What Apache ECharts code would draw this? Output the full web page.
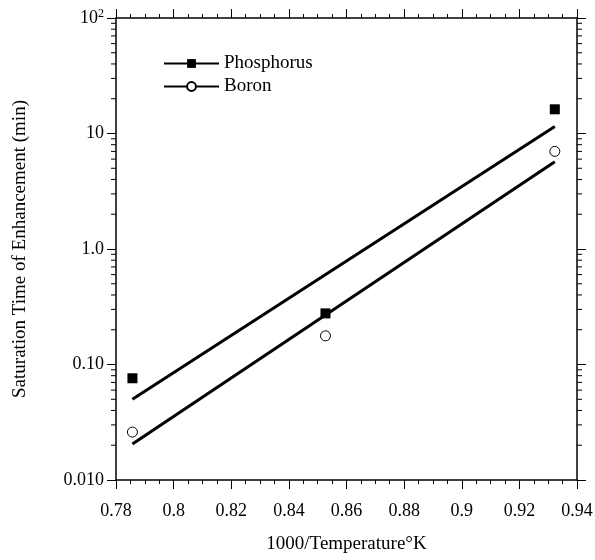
<!DOCTYPE html>
<html>
<head>
<meta charset="utf-8">
<script src="https://cdn.jsdelivr.net/npm/echarts@6/dist/echarts.min.js"></script>
<style>
  html, body { margin: 0; padding: 0; background: #fff; }
  #chart { width: 595px; height: 560px; }
</style>
</head>
<body>
<div id="chart"></div>
<script>
// values
var xValues = [0.7857, 0.8527, 0.9323];
var phosphorus = [0.076, 0.277, 16.2];
var boron = [0.026, 0.177, 7.0];

// fitted lines (end points)
var fitX = [0.7857, 0.9323];
var phosphorusFit = [0.050, 11.5];
var boronFit = [0.0205, 5.7];

// axes
var X_MIN = 0.78, X_MAX = 0.94;
var yTickLabels = ['0.010', '0.10', '1.0', '10', '10{sup|2}'];
var yDecades = [0.01, 0.1, 1, 10];
var yMinorSteps = [2, 3, 4, 5, 6, 7, 8, 9];

var FONT = 'Liberation Serif';

function pairs (xs, ys) {
    return xs.map(function (x, i) { return [x, ys[i]]; });
}

var minorTickData = [];
yDecades.forEach(function (d) {
    yMinorSteps.forEach(function (m) {
        minorTickData.push([X_MIN, m * d]);
    });
});

var myChart = echarts.init(document.getElementById('chart'));

var axisLine = { show: true, onZero: false, lineStyle: { color: '#000', width: 1.5 } };
var axisTick = { show: true, inside: false, length: 9, lineStyle: { color: '#000', width: 1 } };

var option = {
    animation: false,
    backgroundColor: '#fff',
    grid: {
        left: 116,
        right: 18,
        top: 18,
        bottom: 80,
        outerBoundsMode: 'none'
    },
    legend: {
        data: ['Phosphorus', 'Boron'],
        orient: 'vertical',
        left: 158,
        top: 49,
        itemWidth: 55,
        itemHeight: 11,
        itemGap: 4,
        lineStyle: { width: 2 },
        textStyle: { fontFamily: FONT, fontSize: 19, color: '#000' }
    },
    xAxis: [{
        type: 'value',
        min: X_MIN,
        max: X_MAX,
        interval: 0.02,
        name: '1000/Temperature°K',
        nameLocation: 'middle',
        nameGap: 55,
        nameTextStyle: { fontFamily: FONT, fontSize: 19, color: '#000' },
        axisLine: axisLine,
        axisTick: axisTick,
        minorTick: { show: true, splitNumber: 4, length: 4, lineStyle: { color: '#000', width: 1 } },
        axisLabel: { fontFamily: FONT, fontSize: 18, color: '#000', margin: 22 },
        splitLine: { show: false }
    }, {
        type: 'value',
        position: 'top',
        min: X_MIN,
        max: X_MAX,
        interval: 0.02,
        axisLine: axisLine,
        axisTick: axisTick,
        minorTick: { show: true, splitNumber: 4, length: 4, lineStyle: { color: '#000', width: 1 } },
        axisLabel: { show: false },
        splitLine: { show: false }
    }],
    yAxis: [{
        type: 'log',
        logBase: 10,
        min: 0.01,
        max: 100,
        name: 'Saturation Time of Enhancement (min)',
        nameLocation: 'middle',
        nameRotate: 90,
        nameGap: 86,
        nameTextStyle: { fontFamily: FONT, fontSize: 19, color: '#000' },
        axisLine: axisLine,
        axisTick: axisTick,
        axisLabel: {
            fontFamily: FONT,
            fontSize: 18,
            color: '#000',
            margin: 12,
            formatter: function (v) {
                return yTickLabels[Math.round(Math.log10(v)) + 2];
            },
            rich: {
                sup: { fontFamily: FONT, fontSize: 12, color: '#000', verticalAlign: 'top', padding: [0, 0, 8, 0] }
            }
        },
        splitLine: { show: false }
    }, {
        type: 'log',
        logBase: 10,
        min: 0.01,
        max: 100,
        position: 'right',
        axisLine: axisLine,
        axisTick: axisTick,
        axisLabel: { show: false },
        splitLine: { show: false }
    }],
    series: [
        {
            name: 'Phosphorus',
            type: 'line',
            data: pairs(fitX, phosphorusFit),
            symbol: 'rect',
            showSymbol: false,
            lineStyle: { color: '#000', width: 3 },
            itemStyle: { color: '#000' }
        },
        {
            name: 'Boron',
            type: 'line',
            data: pairs(fitX, boronFit),
            symbol: 'emptyCircle',
            showSymbol: false,
            lineStyle: { color: '#000', width: 3 },
            itemStyle: { color: '#000' }
        },
        {
            name: 'Phosphorus',
            type: 'scatter',
            data: pairs(xValues, phosphorus),
            symbol: 'rect',
            symbolSize: 10,
            itemStyle: { color: '#000', opacity: 1 }
        },
        {
            name: 'Boron',
            type: 'scatter',
            data: pairs(xValues, boron),
            symbol: 'circle',
            symbolSize: 10,
            itemStyle: { color: '#fff', borderColor: '#000', borderWidth: 1, opacity: 1 }
        },
        {
            // minor ticks of the log axes (left and right)
            name: 'minorTicks',
            type: 'custom',
            clip: false,
            silent: true,
            data: minorTickData,
            renderItem: function (params, api) {
                var v = api.value(1);
                var l = api.coord([X_MIN, v]);
                var r = api.coord([X_MAX, v]);
                return {
                    type: 'group',
                    children: [
                        { type: 'line', shape: { x1: l[0] - 5, y1: l[1], x2: l[0], y2: l[1] }, style: { stroke: '#000', lineWidth: 1 } },
                        { type: 'line', shape: { x1: r[0], y1: r[1], x2: r[0] + 5, y2: r[1] }, style: { stroke: '#000', lineWidth: 1 } }
                    ]
                };
            }
        }
    ]
};

option && myChart.setOption(option);
</script>
</body>
</html>
